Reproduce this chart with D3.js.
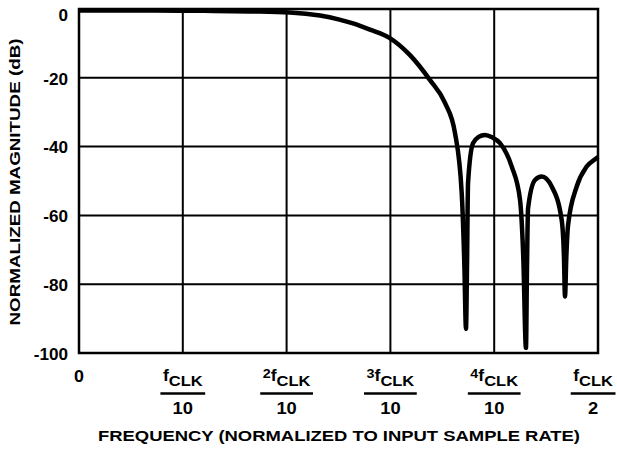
<!DOCTYPE html>
<html>
<head>
<meta charset="utf-8">
<script src="https://cdn.jsdelivr.net/npm/d3@7"></script>
<style>
  html, body { margin: 0; padding: 0; background: #fff; }
  svg text { font-family: "Liberation Sans", Arial, Helvetica, sans-serif; font-weight: bold; fill: #000; }
</style>
</head>
<body>
<svg id="chart" width="617" height="449"></svg>
<script>
// ---- data ----
const freq = [0, 0.05, 0.0973, 0.13, 0.1647, 0.2033, 0.2322, 0.25, 0.264, 0.2803, 0.2987, 0.3189, 0.338, 0.3526, 0.3622, 0.3687, 0.3713, 0.3728, 0.3738, 0.3748, 0.3796, 0.385, 0.3911, 0.398, 0.4056, 0.4169, 0.4249, 0.428, 0.4306, 0.4316, 0.4326, 0.4393, 0.4458, 0.4554, 0.465, 0.4672, 0.4682, 0.4695, 0.4711, 0.4795, 0.4891, 0.4988, 0.5];
const magDb = [-0.4, -0.4, -0.5, -0.55, -0.7, -1.0, -1.9, -3.0, -4.2, -6.0, -8.3, -13.4, -20.6, -27.3, -36, -53.5, -75, -93, -75, -50.6, -39, -37.2, -36.6, -37.3, -39, -45.8, -55.5, -72, -98.5, -75, -58, -49.7, -48.7, -51.6, -61.3, -72, -83.6, -72, -63, -51.6, -45.8, -43.3, -43];
const yTicks = [0, -20, -40, -60, -80, -100];
const xTicks = [0, 0.1, 0.2, 0.3, 0.4, 0.5];
const xTickPrefix = ["", "", "2", "3", "4", ""];
const xTickDenom = ["", "10", "10", "10", "10", "2"];
const xTitle = "FREQUENCY (NORMALIZED TO INPUT SAMPLE RATE)";
const yTitle = "NORMALIZED MAGNITUDE (dB)";

// ---- layout ----
const svg = d3.select("#chart");
const x = d3.scaleLinear().domain([0, 0.5]).range([79, 598]);
const y = d3.scaleLinear().domain([-100, 0]).range([353, 9]);

// grid
svg.append("g").selectAll("line").data(xTicks.slice(1, -1)).join("line")
  .attr("x1", d => x(d)).attr("x2", d => x(d)).attr("y1", y(0)).attr("y2", y(-100))
  .attr("stroke", "#000").attr("stroke-width", 2);
svg.append("g").selectAll("line").data(yTicks.slice(1, -1)).join("line")
  .attr("x1", x(0)).attr("x2", x(0.5)).attr("y1", d => y(d)).attr("y2", d => y(d))
  .attr("stroke", "#000").attr("stroke-width", 2);
// border
svg.append("rect").attr("x", x(0)).attr("y", y(0))
  .attr("width", x(0.5) - x(0)).attr("height", y(-100) - y(0))
  .attr("fill", "none").attr("stroke", "#000").attr("stroke-width", 2.5);

// curve
const line = d3.line().x((d, i) => x(freq[i])).y((d, i) => y(magDb[i])).curve(d3.curveMonotoneX);
svg.append("path").datum(magDb).attr("d", line)
  .attr("fill", "none").attr("stroke", "#000").attr("stroke-width", 4.5)
  .attr("stroke-linejoin", "round").attr("stroke-linecap", "butt");

// y tick labels (slightly wide lettering as in the reference)
yTicks.forEach(v => {
  const cy = v === 0 ? y(v) + 6 : y(v) + 1;
  svg.append("text")
    .attr("transform", `translate(68,${cy}) scale(1.07,1)`)
    .attr("dy", "0.36em").attr("text-anchor", "end").attr("font-size", 16).text(v);
});

// x tick labels
xTicks.forEach((v, i) => {
  const cx = x(v);
  if (i === 0) {
    svg.append("text").attr("transform", `translate(${cx},381.5) scale(1.05,1)`)
      .attr("text-anchor", "middle").attr("font-size", 17).text("0");
    return;
  }
  const g = svg.append("g");
  const num = g.append("text").attr("text-anchor", "middle");
  if (xTickPrefix[i]) num.append("tspan").attr("font-size", 13).attr("dy", -3).text(xTickPrefix[i]);
  num.append("tspan").attr("font-size", 16).attr("dy", xTickPrefix[i] ? 3 : 0).text("f");
  num.append("tspan").attr("font-size", 15).attr("dy", 5.5).text("CLK");
  const sx = 1.1;
  const w = num.node().getComputedTextLength() * sx + 5;
  let shift = 0;
  if (cx + w / 2 > 615.5) shift = 615.5 - (cx + w / 2);
  num.attr("transform", `translate(${cx + shift},380.7) scale(${sx},1)`);
  g.append("line").attr("x1", cx + shift - w / 2).attr("x2", cx + shift + w / 2)
    .attr("y1", 393.5).attr("y2", 393.5).attr("stroke", "#000").attr("stroke-width", 2.3);
  g.append("text").attr("transform", `translate(${cx + shift},413.5) scale(1.08,1)`)
    .attr("text-anchor", "middle").attr("font-size", 17).text(xTickDenom[i]);
});

// axis titles
svg.append("text").attr("x", 339).attr("y", 441).attr("text-anchor", "middle")
  .attr("font-size", 14.5).attr("textLength", 482).attr("lengthAdjust", "spacingAndGlyphs")
  .text(xTitle);
svg.append("text").attr("transform", "translate(19.5,182) rotate(-90)")
  .attr("text-anchor", "middle").attr("font-size", 14.5)
  .attr("textLength", 287).attr("lengthAdjust", "spacingAndGlyphs").text(yTitle);
</script>
</body>
</html>
